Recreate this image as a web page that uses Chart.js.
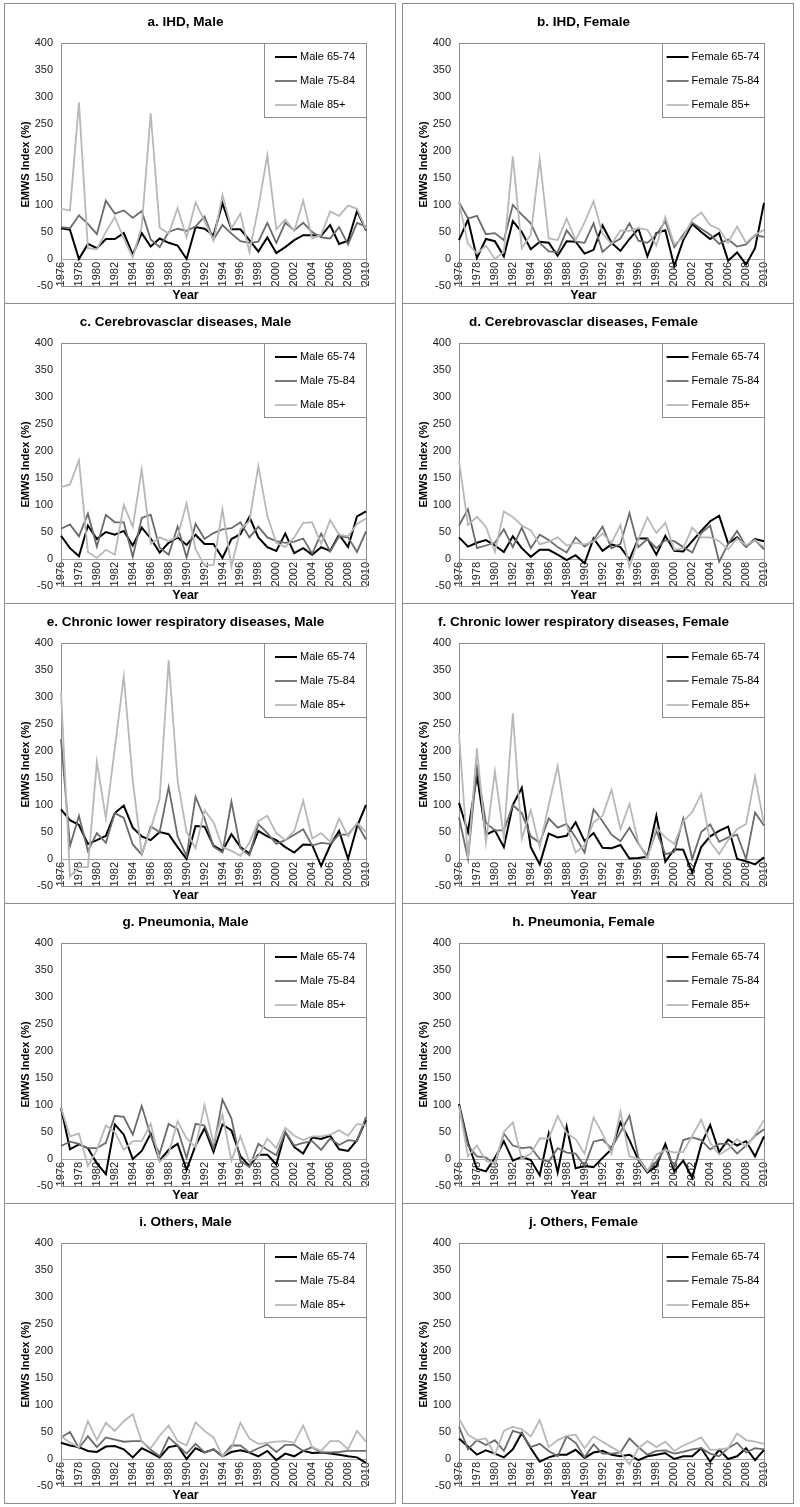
<!DOCTYPE html>
<html>
<head>
<meta charset="utf-8">
<script src="https://cdn.jsdelivr.net/npm/chart.js@4.4.1/dist/chart.umd.min.js"></script>
<style>
  body { margin: 0; background: #fff; }
  #page { position: relative; width: 800px; height: 1507px; }
  .panel { position: absolute; width: 392px; height: 301px; border: 1px solid #8c8c8c; box-sizing: border-box; background: #fff; }
  .panel canvas { display: block; }
</style>
</head>
<body>
<div id="page"></div>
<script>
'use strict';

var years = [1976, 1977, 1978, 1979, 1980, 1981, 1982, 1983, 1984, 1985, 1986, 1987, 1988, 1989, 1990, 1991, 1992, 1993,
  1994, 1995, 1996, 1997, 1998, 1999, 2000, 2001, 2002, 2003, 2004, 2005, 2006, 2007, 2008, 2009, 2010];
var ageGroups = ['65-74', '75-84', '85+'];
var yTicks = { min: -50, max: 400, step: 50 };

var panelTitles = [
  'a. IHD, Male', 'b. IHD, Female',
  'c. Cerebrovasclar diseases, Male', 'd. Cerebrovasclar diseases, Female',
  'e. Chronic lower respiratory diseases, Male', 'f. Chronic lower respiratory diseases, Female',
  'g. Pneumonia, Male', 'h. Pneumonia, Female',
  'i. Others, Male', 'j. Others, Female'
];

// a. IHD
var ihdM65 = [57, 54, 0, 28, 20, 37, 37, 48, 8, 48, 23, 38, 30, 25, 0, 59, 56, 44, 103, 55, 55, 35, 14, 40, 11, 22, 35, 44, 44, 43, 63, 28, 34, 89, 53];
var ihdM75 = [59, 57, 81, 65, 46, 108, 84, 90, 76, 89, 36, 22, 50, 56, 52, 60, 79, 36, 63, 47, 33, 30, 32, 67, 30, 67, 53, 67, 50, 40, 38, 59, 27, 67, 60];
var ihdM85 = [93, 90, 290, 20, 18, 50, 78, 38, 3, 60, 270, 58, 47, 94, 40, 105, 70, 34, 118, 57, 84, 13, 95, 192, 55, 73, 52, 108, 38, 45, 88, 80, 99, 93, 55];
// b. IHD female
var ihdF65 = [35, 73, 2, 37, 33, 5, 70, 50, 18, 32, 30, 6, 33, 32, 10, 17, 62, 30, 15, 37, 56, 5, 48, 53, -13, 35, 65, 50, 37, 48, -3, 12, -10, 20, 104];
var ihdF75 = [105, 75, 80, 46, 48, 35, 100, 82, 66, 30, 14, 13, 53, 32, 30, 66, 13, 28, 38, 66, 34, 30, 45, 70, 22, 45, 67, 56, 45, 28, 36, 23, 27, 44, 41];
var ihdF85 = [105, 28, 10, 25, 0, 13, 190, 20, 45, 184, 38, 35, 75, 35, 68, 107, 47, 28, 53, 52, 57, 54, 25, 78, 27, 40, 73, 86, 63, 55, 30, 60, 30, 45, 54];
// c. cerebrovascular male
var cbvM65 = [43, 20, 5, 62, 37, 50, 45, 52, 25, 58, 38, 12, 30, 40, 26, 45, 28, 28, 2, 37, 46, 78, 40, 22, 15, 47, 11, 20, 8, 22, 15, 45, 22, 79, 88];
var cbvM75 = [56, 64, 42, 84, 23, 82, 68, 68, 4, 76, 82, 21, 8, 60, 3, 65, 37, 48, 55, 57, 68, 40, 60, 40, 33, 30, 32, 38, 10, 47, 14, 42, 40, 13, 51];
var cbvM85 = [133, 138, 183, 13, 2, 17, 8, 100, 60, 166, 28, 40, 33, 42, 103, 18, -12, -11, 92, -14, 55, 70, 172, 80, 30, 22, 40, 67, 68, 28, 72, 45, 42, 65, 75];
// d. cerebrovascular female
var cbvF65 = [40, 23, 30, 35, 25, 13, 42, 20, 4, 17, 17, 8, -2, 7, -8, 38, 15, 27, 22, -1, 38, 38, 8, 43, 15, 14, 33, 52, 70, 80, 29, 40, 23, 37, 33];
var cbvF75 = [62, 92, 20, 25, 30, 55, 22, 58, 20, 45, 35, 22, 12, 40, 23, 35, 60, 20, 28, 85, 22, 37, 20, 35, 33, 22, 12, 48, 62, -5, 28, 52, 23, 35, 18];
var cbvF85 = [182, 63, 78, 60, 13, 88, 78, 62, 53, 27, 32, 40, 25, 30, 27, 32, 47, 30, 63, -15, 37, 77, 48, 67, 17, 20, 58, 40, 40, 33, 18, 38, 25, 35, 22];
// e. chronic lower respiratory male
var clrdM65 = [92, 72, 63, 28, 35, 43, 85, 99, 58, 42, 35, 50, 46, 22, 0, 61, 60, 25, 15, 46, 22, 10, 52, 42, 35, 22, 12, 27, 26, -13, 25, 52, 0, 60, 100];
var clrdM75 = [222, 24, 80, 15, 48, 30, 85, 76, 27, 8, 60, 50, 133, 42, 5, 115, 75, 23, 12, 106, 20, 7, 65, 48, 28, 35, 45, 55, 25, 30, 28, 45, 45, 65, 36];
var clrdM85 = [310, -32, -15, -15, 180, 75, 205, 338, 145, 10, 55, 112, 368, 145, 50, 20, 90, 68, 22, 15, 6, 30, 70, 80, 48, 35, 52, 108, 38, 48, 32, 75, 42, 67, 50];
// f. chronic lower respiratory female
var clrdF65 = [104, 50, 155, 45, 53, 22, 100, 132, 22, -10, 47, 40, 43, 68, 33, 48, 21, 20, 26, 1, 2, 4, 80, -5, 18, 17, -25, 22, 42, 52, 60, 0, -4, -10, 3];
var clrdF75 = [77, 0, 170, 67, 53, 53, 100, 85, 42, 30, 75, 58, 65, 40, 12, 92, 70, 45, 33, 58, 28, 5, 52, 9, 13, 75, 0, 50, 64, 32, 40, 45, 0, 86, 62];
var clrdF85 = [232, 0, 205, 30, 162, 40, 270, 38, 90, 22, 100, 172, 62, 12, 25, 68, 80, 128, 55, 102, 30, 0, 58, 40, 28, 70, 87, 120, 32, 9, 35, 55, 65, 153, 65];
// g. pneumonia male
var pneuM65 = [95, 18, 27, 20, -8, -28, 64, 45, 0, 15, 47, -3, 17, 28, -20, 25, 57, 13, 64, 53, 5, -13, 8, 8, -10, 50, 22, 10, 40, 37, 43, 18, 15, 35, 72];
var pneuM75 = [24, 32, 28, 20, 20, 30, 80, 78, 45, 98, 43, 10, 65, 55, 2, 65, 62, 20, 110, 75, -3, -15, 28, 17, 7, 50, 25, 30, 33, 17, 38, 26, 35, 33, 78];
var pneuM85 = [95, 42, 47, -13, 17, 62, 50, 17, 33, 33, 65, -5, 10, 70, 38, 22, 100, 30, 82, -3, 42, -5, 5, 38, 20, 58, 43, 35, 42, 42, 45, 53, 43, 65, 62];
// h. pneumonia female
var pneuF65 = [102, 30, -18, -23, 2, 33, -3, 4, -2, -30, 47, -25, 60, -17, -13, -15, 2, 18, 68, 35, -2, -25, -13, 28, -23, -3, -35, 27, 63, 13, 36, 25, 33, 5, 42];
var pneuF75 = [100, 25, 5, 3, -10, 47, 25, 20, 22, 0, -5, 20, 12, 10, -13, 32, 36, 20, 50, 80, 2, -22, -5, 20, -15, 35, 40, 35, 18, 28, 28, 10, 25, 43, 55];
var pneuF85 = [98, 5, 25, -3, -8, 50, 68, 0, 10, 38, 38, 80, 48, 37, 10, 77, 47, 10, 88, 5, 0, -23, 8, 17, 12, 13, 43, 73, 30, 8, 18, 37, 23, 45, 72];
// i. others male
var othM65 = [30, 25, 22, 15, 13, 23, 24, 18, 3, 20, 12, 3, 22, 25, 0, 20, 12, 18, 5, 13, 16, 12, 5, 15, -2, 10, 5, 15, 11, 12, 10, 8, 5, 3, -7];
var othM75 = [40, 50, 20, 42, 22, 40, 36, 32, 33, 33, 17, 5, 40, 25, 10, 28, 12, 18, 5, 25, 25, 12, 20, 27, 13, 26, 26, 15, 22, 12, 12, 13, 15, 15, 15];
var othM85 = [42, 30, 22, 70, 35, 67, 52, 70, 83, 32, 20, 43, 62, 33, 25, 68, 52, 40, 5, 20, 67, 38, 28, 30, 32, 33, 30, 62, 22, 15, 33, 33, 18, 52, 32];
// j. others female
var othF65 = [38, 23, 8, 16, 10, 3, 18, 48, 20, -5, 3, 8, 8, 17, 2, 12, 15, 8, 5, 8, -2, 5, 8, 11, 0, 5, 5, 20, -5, 17, 0, 5, 20, -2, 17];
var othF75 = [60, 18, 35, 26, 35, 15, 52, 47, 22, 28, 15, 5, 42, 30, 3, 27, 10, 10, 12, 38, 22, 8, 15, 16, 10, 13, 18, 20, 10, 5, 20, 30, 12, 20, 18];
var othF85 = [75, 45, 35, 38, 8, 52, 60, 55, 42, 72, 22, 35, 43, 45, 20, 42, 32, 22, 12, -10, 20, 33, 22, 32, 15, 25, 32, 40, 17, 18, 20, 47, 35, 32, 28];

var panelSeries = [
  [ihdM65, ihdM75, ihdM85], [ihdF65, ihdF75, ihdF85],
  [cbvM65, cbvM75, cbvM85], [cbvF65, cbvF75, cbvF85],
  [clrdM65, clrdM75, clrdM85], [clrdF65, clrdF75, clrdF85],
  [pneuM65, pneuM75, pneuM85], [pneuF65, pneuF75, pneuF85],
  [othM65, othM75, othM85], [othF65, othF75, othF85]
];

var lineColors = ['#000000', '#6b6b6b', '#b8b8b8'];
var lineWidths = [2, 1.8, 1.8];
var FONT = "'Liberation Sans', Arial, sans-serif";

// frame of the plot area + legend box drawn inside the chart area
var frameAndLegend = {
  id: 'frameAndLegend',
  beforeDatasetsDraw: function (chart) {
    var a = chart.chartArea;
    var ctx = chart.ctx;
    ctx.save();
    ctx.strokeStyle = '#8c8c8c';
    ctx.lineWidth = 1;
    ctx.strokeRect(Math.round(a.left) + 0.5, Math.round(a.top) + 0.5, Math.round(a.right - a.left), Math.round(a.bottom - a.top));
    ctx.restore();
  },
  afterDatasetsDraw: function (chart) {
    var a = chart.chartArea;
    var ctx = chart.ctx;
    var boxW = 102, boxH = 74;
    var bx = Math.round(a.right) - boxW, by = Math.round(a.top);
    ctx.save();
    ctx.fillStyle = '#fff';
    ctx.fillRect(bx, by, boxW, boxH);
    ctx.strokeStyle = '#8c8c8c';
    ctx.lineWidth = 1;
    ctx.strokeRect(bx + 0.5, by + 0.5, boxW, boxH);
    ctx.font = '11px ' + FONT;
    ctx.textBaseline = 'middle';
    var maxW = 0;
    chart.data.datasets.forEach(function (ds) {
      maxW = Math.max(maxW, ctx.measureText(ds.label).width);
    });
    var sx = bx + (boxW - (25 + maxW)) / 2;
    chart.data.datasets.forEach(function (ds, i) {
      var ly = by + 14 + i * 24;
      ctx.strokeStyle = ds.borderColor;
      ctx.lineWidth = ds.borderWidth;
      ctx.beginPath();
      ctx.moveTo(sx, ly);
      ctx.lineTo(sx + 22, ly);
      ctx.stroke();
      ctx.fillStyle = '#000';
      ctx.fillText(ds.label, sx + 25, ly);
    });
    ctx.restore();
  }
};

function makeChart(canvas, title, sex, series) {
  return new Chart(canvas.getContext('2d'), {
    type: 'line',
    data: {
      labels: years,
      datasets: series.map(function (d, i) {
        return {
          label: sex + ' ' + ageGroups[i],
          data: d,
          borderColor: lineColors[i],
          borderWidth: lineWidths[i],
          pointRadius: 0,
          tension: 0,
          fill: false,
          order: 3 - i
        };
      })
    },
    options: {
      responsive: false,
      animation: false,
      devicePixelRatio: 1,
      layout: { padding: { left: 0, right: 29, top: 0, bottom: 0 } },
      plugins: {
        legend: { display: false },
        tooltip: { enabled: false },
        title: {
          display: true,
          text: title,
          color: '#000',
          font: { family: FONT, size: 13.5, weight: 'bold' },
          padding: { top: 10.5, bottom: 12.3 }
        },
        subtitle: {
          display: true,
          position: 'bottom',
          text: 'Year',
          color: '#000',
          font: { family: FONT, size: 12.5, weight: 'bold' },
          padding: { top: 2, bottom: 0 }
        }
      },
      scales: {
        x: {
          type: 'category',
          position: { y: 0 },
          offset: false,
          grid: { display: false, drawTicks: false },
          border: { display: true, color: '#a6a6a6', width: 1 },
          ticks: {
            autoSkip: false,
            minRotation: 90,
            maxRotation: 90,
            padding: 3,
            color: '#1a1a1a',
            font: { family: FONT, size: 11 },
            callback: function (v, i) { return i % 2 === 0 ? this.getLabelForValue(v) : ''; }
          }
        },
        y: {
          min: yTicks.min,
          max: yTicks.max,
          grid: { display: false, drawTicks: false },
          border: { display: false },
          ticks: { stepSize: yTicks.step, padding: 8, color: '#1a1a1a', font: { family: FONT, size: 11 } },
          title: {
            display: true,
            text: 'EMWS Index (%)',
            color: '#000',
            font: { family: FONT, size: 11, weight: 'bold' },
            padding: { top: 14, bottom: 0 }
          },
          afterFit: function (scale) { scale.width = 56; }
        }
      }
    },
    plugins: [frameAndLegend]
  });
}

var page = document.getElementById('page');
panelTitles.forEach(function (title, i) {
  var col = i % 2;
  var row = Math.floor(i / 2);
  var div = document.createElement('div');
  div.className = 'panel';
  div.style.left = (col === 0 ? 4 : 402) + 'px';
  div.style.top = (3 + row * 300) + 'px';
  var canvas = document.createElement('canvas');
  canvas.width = 390;
  canvas.height = 299;
  div.appendChild(canvas);
  page.appendChild(div);
  makeChart(canvas, title, col === 0 ? 'Male' : 'Female', panelSeries[i]);
});
</script>
</body>
</html>
